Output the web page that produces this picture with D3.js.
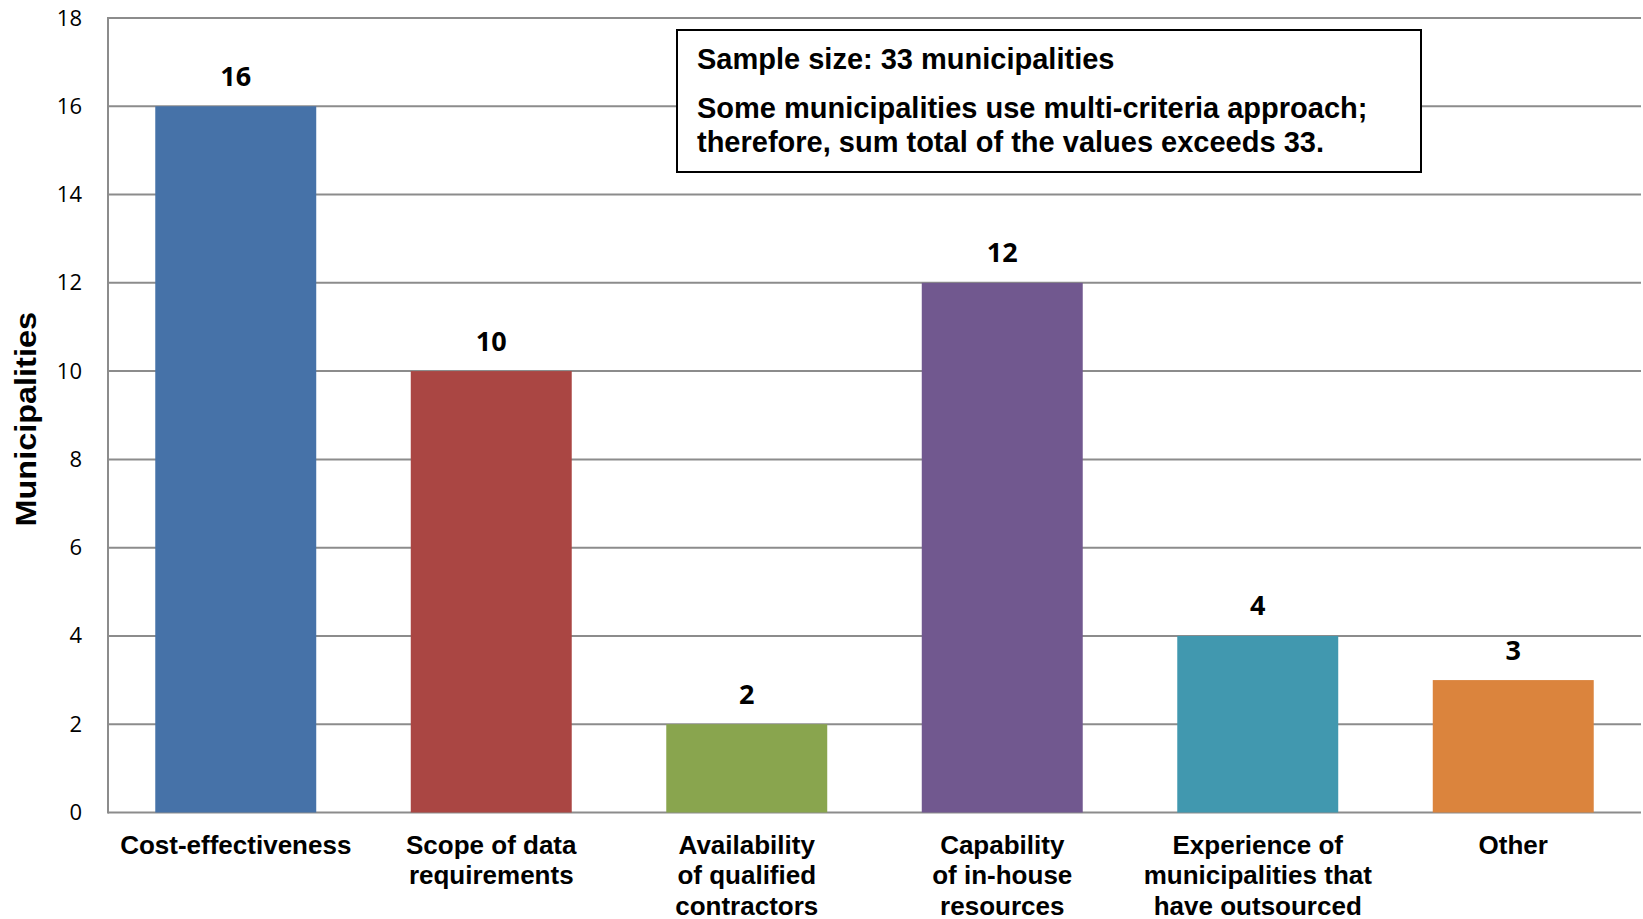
<!DOCTYPE html>
<html>
<head>
<meta charset="utf-8">
<script src="https://cdn.jsdelivr.net/npm/d3@7"></script>
<style>
  html, body { margin: 0; padding: 0; background: #fff; }
  svg { display: block; }
  .sans { font-family: "Liberation Sans", Arial, Arimo, Helvetica, sans-serif; }
  .num { font-family: "Open Sans", sans-serif; }
</style>
</head>
<body>
<svg id="chart" width="1643" height="919"></svg>
<script>
// Criteria used by municipalities when deciding to outsource
const categories = [
  ["Cost-effectiveness"],
  ["Scope of data", "requirements"],
  ["Availability", "of qualified", "contractors"],
  ["Capability", "of in-house", "resources"],
  ["Experience of", "municipalities that", "have outsourced"],
  ["Other"]
];
const values = [16, 10, 2, 12, 4, 3];
const barColors = ["#4672A8", "#AA4643", "#89A54E", "#71588F", "#4198AF", "#DB843D"];
const yTicks = [0, 2, 4, 6, 8, 10, 12, 14, 16, 18];
const yTitle = "Municipalities";
const noteLines = [
  "Sample size: 33 municipalities",
  "Some municipalities use multi-criteria approach;",
  "therefore, sum total of the values exceeds 33."
];

const svg = d3.select("#chart");
const plot = { left: 108, right: 1641, top: 18, bottom: 812.5 };

const x = d3.scaleBand()
  .domain(d3.range(categories.length))
  .range([plot.left, plot.right])
  .paddingInner(0.37)
  .paddingOuter(0.185);

const y = d3.scaleLinear()
  .domain([0, 18])
  .range([plot.bottom, plot.top]);

// horizontal gridlines
svg.append("g")
  .selectAll("line")
  .data(yTicks)
  .join("line")
  .attr("x1", plot.left)
  .attr("x2", plot.right)
  .attr("y1", d => y(d))
  .attr("y2", d => y(d))
  .attr("stroke", "#8C8C8C")
  .attr("stroke-width", 2);

// y axis line
svg.append("line")
  .attr("x1", plot.left).attr("x2", plot.left)
  .attr("y1", plot.top - 1).attr("y2", plot.bottom + 1)
  .attr("stroke", "#8C8C8C").attr("stroke-width", 2);

// y tick labels
const yAxis = d3.axisLeft(y).tickValues(yTicks).tickSize(0).tickPadding(26);
const gy = svg.append("g")
  .attr("transform", `translate(${plot.left},0)`)
  .call(yAxis);
gy.select(".domain").remove();
gy.attr("font-family", null).attr("font-size", null);
gy.selectAll("text")
  .attr("class", "num")
  .attr("font-size", 22)
  .attr("fill", "#000");

// y axis title
svg.append("text")
  .attr("class", "sans")
  .attr("transform", `translate(36,${(plot.top + plot.bottom) / 2 + 4}) rotate(-90) scale(1.12,1)`)
  .attr("text-anchor", "middle")
  .attr("font-weight", "bold")
  .attr("font-size", 29)
  .text(yTitle);

// bars
svg.append("g")
  .selectAll("rect")
  .data(values)
  .join("rect")
  .attr("x", (d, i) => x(i))
  .attr("width", x.bandwidth())
  .attr("y", d => y(d))
  .attr("height", d => y(0) - y(d))
  .attr("fill", (d, i) => barColors[i]);

// value labels
svg.append("g")
  .selectAll("text")
  .data(values)
  .join("text")
  .attr("class", "num")
  .attr("x", (d, i) => x(i) + x.bandwidth() / 2)
  .attr("y", d => y(d) - 20.5)
  .attr("text-anchor", "middle")
  .attr("font-weight", "bold")
  .attr("font-size", 27)
  .text(d => d);

// category labels
const cat = svg.append("g")
  .selectAll("text")
  .data(categories)
  .join("text")
  .attr("class", "sans")
  .attr("text-anchor", "middle")
  .attr("font-weight", "bold")
  .attr("font-size", 26)
  .attr("transform", (d, i) => `translate(${x(i) + x.bandwidth() / 2},0)`);
cat.selectAll("tspan")
  .data(d => d)
  .join("tspan")
  .attr("x", 0)
  .attr("y", (d, j) => 853.5 + j * 30.5)
  .text(d => d);

// note box
const box = svg.append("g");
box.append("rect")
  .attr("x", 677).attr("y", 30)
  .attr("width", 744).attr("height", 142)
  .attr("fill", "#fff")
  .attr("stroke", "#000")
  .attr("stroke-width", 2);
box.append("g")
  .selectAll("text")
  .data(noteLines)
  .join("text")
  .attr("class", "sans")
  .attr("x", 697)
  .attr("y", (d, i) => [69, 117.5, 152][i])
  .attr("font-weight", "bold")
  .attr("font-size", 29)
  .text(d => d);
</script>
</body>
</html>
